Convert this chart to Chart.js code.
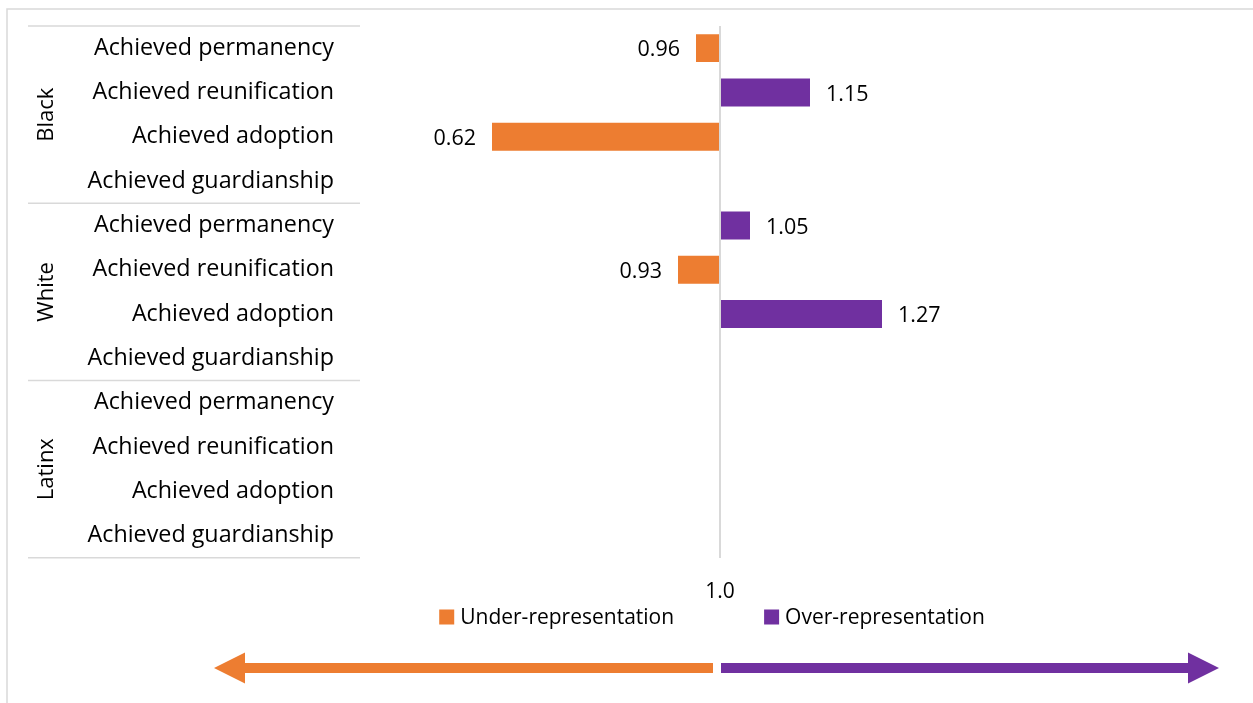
<!DOCTYPE html>
<html>
<head>
<meta charset="utf-8">
<script src="https://cdn.jsdelivr.net/npm/chart.js@4"></script>
<style>
  html, body { margin: 0; padding: 0; background: #fff; overflow: hidden; }
  canvas { display: block; }
</style>
</head>
<body>
<canvas id="ratio-chart" width="1253" height="703"></canvas>
<script>
const groups = ['Black', 'White', 'Latinx'];
const outcomes = ['Achieved permanency', 'Achieved reunification', 'Achieved adoption', 'Achieved guardianship'];
const blackRatios = [0.96, 1.15, 0.62, null];
const whiteRatios = [1.05, 0.93, 1.27, null];
const latinxRatios = [null, null, null, null];
const xTicks = [1.0];
const seriesNames = ['Under-representation', 'Over-representation'];

const ORANGE = '#ED7D31';
const PURPLE = '#7030A0';
const LINE = '#d9d9d9';

const labels = groups.flatMap(() => outcomes);
const allRatios = [...blackRatios, ...whiteRatios, ...latinxRatios];
const under = allRatios.map(v => v !== null && v < 1 ? v : null);
const over = allRatios.map(v => v !== null && v > 1 ? v : null);

Chart.defaults.font.family = "'Open Sans', sans-serif";
Chart.defaults.font.size = 20;
Chart.defaults.color = '#000';

// frame, group labels, separators, value labels, legend and arrows
const extras = {
  id: 'extras',
  beforeDraw(chart) {
    const ctx = chart.ctx;
    ctx.save();
    ctx.strokeStyle = LINE;
    ctx.lineWidth = 1.5;
    ctx.beginPath();
    ctx.moveTo(7, chart.height);
    ctx.lineTo(7, 9);
    ctx.lineTo(chart.width, 9);
    ctx.stroke();
    ctx.restore();
  },
  afterDraw(chart) {
    const ctx = chart.ctx;
    const y = chart.scales.y;
    const x = chart.scales.x;
    const area = chart.chartArea;
    const step = y.getPixelForValue(1) - y.getPixelForValue(0);
    ctx.save();

    // group separators + rotated group names
    ctx.strokeStyle = LINE;
    ctx.lineWidth = 1.5;
    groups.forEach((g, gi) => {
      const first = gi * outcomes.length;
      const last = first + outcomes.length - 1;
      const top = y.getPixelForValue(first) - step / 2;
      const bottom = y.getPixelForValue(last) + step / 2;
      ctx.beginPath();
      ctx.moveTo(28, top);
      ctx.lineTo(area.left, top);
      if (gi === groups.length - 1) {
        ctx.moveTo(28, bottom);
        ctx.lineTo(area.left, bottom);
      }
      ctx.stroke();

      ctx.save();
      ctx.translate(47, (top + bottom) / 2);
      ctx.rotate(-Math.PI / 2);
      ctx.fillStyle = '#000';
      ctx.font = "22px 'Open Sans'";
      ctx.textAlign = 'center';
      ctx.textBaseline = 'middle';
      ctx.fillText(g, 0, 0);
      ctx.restore();
    });

    // value labels
    ctx.font = "21.5px 'Open Sans'";
    ctx.fillStyle = '#000';
    ctx.textBaseline = 'middle';
    chart.data.datasets.forEach((ds, di) => {
      const meta = chart.getDatasetMeta(di);
      meta.data.forEach((bar, i) => {
        const v = ds.data[i];
        if (v === null) return;
        if (v < 1) {
          ctx.textAlign = 'right';
          ctx.fillText(v.toFixed(2), bar.x - 16, bar.y + 2);
        } else {
          ctx.textAlign = 'left';
          ctx.fillText(v.toFixed(2), bar.x + 16, bar.y + 2);
        }
      });
    });

    // legend
    ctx.font = "21px 'Open Sans'";
    const gap = 90, box = 15;
    const widths = chart.data.datasets.map(ds => box + 6 + ctx.measureText(ds.label).width);
    const total = widths.reduce((a, b) => a + b, 0) + gap;
    let lx = 712 - total / 2;
    const ly = 617;
    ctx.textAlign = 'left';
    chart.data.datasets.forEach((ds, di) => {
      ctx.fillStyle = ds.backgroundColor;
      ctx.fillRect(lx, ly - box / 2, box, box);
      ctx.fillStyle = '#000';
      ctx.fillText(ds.label, lx + box + 6, ly + 1);
      lx += widths[di] + gap;
    });

    // direction arrows
    const mid = x.getPixelForValue(1);
    const ay = 668, half = 5, head = 15.5;
    ctx.fillStyle = ORANGE;
    ctx.beginPath();
    ctx.moveTo(mid - 7, ay - half);
    ctx.lineTo(245, ay - half);
    ctx.lineTo(245, ay - head);
    ctx.lineTo(214, ay);
    ctx.lineTo(245, ay + head);
    ctx.lineTo(245, ay + half);
    ctx.lineTo(mid - 7, ay + half);
    ctx.closePath();
    ctx.fill();
    ctx.fillStyle = PURPLE;
    ctx.beginPath();
    ctx.moveTo(mid + 1, ay - half);
    ctx.lineTo(1188, ay - half);
    ctx.lineTo(1188, ay - head);
    ctx.lineTo(1219, ay);
    ctx.lineTo(1188, ay + head);
    ctx.lineTo(1188, ay + half);
    ctx.lineTo(mid + 1, ay + half);
    ctx.closePath();
    ctx.fill();

    ctx.restore();
  }
};

new Chart(document.getElementById('ratio-chart'), {
  type: 'bar',
  data: {
    labels: labels,
    datasets: [
      {
        label: seriesNames[0],
        data: under,
        backgroundColor: ORANGE,
        base: 1,
        grouped: false,
        barPercentage: 0.63,
        categoryPercentage: 1
      },
      {
        label: seriesNames[1],
        data: over,
        backgroundColor: PURPLE,
        base: 1,
        grouped: false,
        barPercentage: 0.63,
        categoryPercentage: 1
      }
    ]
  },
  options: {
    indexAxis: 'y',
    responsive: false,
    animation: false,
    layout: { padding: { top: 26, bottom: 76, left: 0, right: 173 } },
    plugins: {
      legend: { display: false },
      tooltip: { enabled: false }
    },
    scales: {
      x: {
        min: 0.4,
        max: 1.6,
        afterBuildTicks: axis => { axis.ticks = xTicks.map(v => ({ value: v })); },
        afterFit: axis => { axis.paddingLeft = 0; axis.paddingRight = 0; },
        ticks: {
          padding: 22,
          font: { size: 21 },
          callback: v => Number(v).toFixed(1)
        },
        grid: { color: LINE, lineWidth: 2, drawTicks: false },
        border: { display: false }
      },
      y: {
        afterFit: axis => { axis.width = 360; axis.paddingTop = 0; axis.paddingBottom = 0; },
        ticks: { padding: 26, autoSkip: false, font: { size: 23.3 } },
        grid: { display: false, drawTicks: false },
        border: { display: false }
      }
    }
  },
  plugins: [extras]
});
</script>
</body>
</html>
